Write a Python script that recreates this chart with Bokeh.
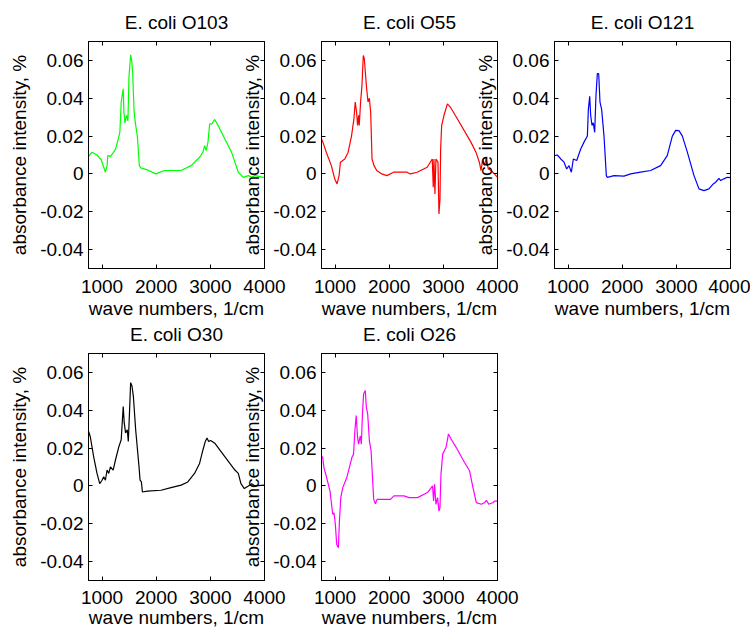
from bokeh.plotting import figure
from bokeh.layouts import row, column
from bokeh.models import Range1d, LinearAxis, FixedTicker
from bokeh.embed import file_html
from bokeh.resources import INLINE

# ---------------- data ----------------
TITLES = ["E. coli O103", "E. coli O55", "E. coli O121", "E. coli O30", "E. coli O26"]
COLORS = ["#00ff00", "#ff0000", "#0000ff", "#000000", "#ff00ff"]

X_TICKS = [1000, 2000, 3000, 4000]
X_TICK_LABELS = ["1000", "2000", "3000", "4000"]
Y_TICKS = [-0.04, -0.02, 0, 0.02, 0.04, 0.06]
Y_TICK_LABELS = ["-0.04", "-0.02", "0", "0.02", "0.04", "0.06"]
X_LABEL = "wave numbers, 1/cm"
Y_LABEL = "absorbance intensity, %"

O103_X = [752, 814, 907, 957, 985, 1062, 1093, 1106, 1155, 1200, 1248, 1292, 1329, 1354, 1391,
          1404, 1422, 1453, 1478, 1497, 1528, 1547, 1565, 1590, 1615, 1652, 1689, 1714, 1839,
          1994, 2149, 2460, 2646, 2801, 2863, 2894, 2925, 2956, 2988, 3031, 3081, 3143, 3391,
          3516, 3609, 3702, 3764, 3826, 4000]
O103_Y = [0.0093, 0.0115, 0.0100, 0.0083, 0.0075, 0.0009, 0.0044, 0.0097, 0.0093, 0.0110, 0.0130,
          0.0176, 0.0220, 0.0380, 0.0450, 0.0326, 0.0270, 0.0310, 0.0280, 0.0510, 0.0630, 0.0600,
          0.0540, 0.0340, 0.0270, 0.0200, 0.0044, 0.0032, 0.0021, 0.0000, 0.0018, 0.0018, 0.0044,
          0.0088, 0.0115, 0.0150, 0.0123, 0.0168, 0.0265, 0.0265, 0.0288, 0.0256, 0.0115, 0.0009,
          -0.0018, -0.0009, -0.0018, -0.0009, -0.0020]

O55_X = [750, 776, 838, 932, 994, 1037, 1075, 1099, 1180, 1242, 1304, 1348, 1373, 1398, 1416,
         1435, 1447, 1472, 1497, 1522, 1540, 1559, 1584, 1609, 1634, 1658, 1683, 1720, 1770,
         1863, 1957, 2081, 2329, 2391, 2516, 2702, 2795, 2814, 2826, 2845, 2863, 2901, 2919,
         2938, 2950, 2969, 3012, 3075, 3137, 3261, 3509, 3602, 3665, 3696, 3727, 3758, 3789,
         3832, 3882, 3944, 4000]
O55_Y = [0.0185, 0.0168, 0.0115, 0.0044, -0.0026, -0.0053, -0.0009, 0.0062, 0.0079, 0.0115,
         0.0200, 0.0290, 0.0380, 0.0326, 0.0256, 0.0310, 0.0256, 0.0380, 0.0467, 0.0626, 0.0610,
         0.0540, 0.0450, 0.0380, 0.0400, 0.0326, 0.0079, 0.0044, 0.0018, 0.0000, -0.0009, 0.0009,
         0.0009, 0.0000, 0.0009, 0.0035, 0.0079, -0.0070, 0.0079, -0.0106, 0.0079, 0.0062,
         -0.0212, -0.0132, 0.0132, 0.0256, 0.0310, 0.0370, 0.0350, 0.0290, 0.0168, 0.0115,
         0.0062, 0.0018, 0.0079, 0.0044, 0.0079, 0.0026, 0.0018, 0.0000, -0.0018]

O121_X = [750, 803, 865, 926, 975, 1018, 1061, 1098, 1160, 1234, 1295, 1357, 1375, 1400, 1418,
          1443, 1467, 1492, 1516, 1541, 1566, 1590, 1621, 1664, 1707, 1726, 1849, 2033, 2156,
          2340, 2525, 2709, 2832, 2926, 2988, 3049, 3111, 3203, 3326, 3418, 3510, 3602, 3682,
          3725, 3787, 3817, 3879, 3940, 4000]
O121_Y = [0.0097, 0.0100, 0.0079, 0.0062, 0.0026, 0.0044, 0.0009, 0.0079, 0.0071, 0.0132, 0.0168,
          0.0200, 0.0340, 0.0410, 0.0310, 0.0256, 0.0270, 0.0220, 0.0415, 0.0530, 0.0530, 0.0380,
          0.0340, 0.0200, -0.0009, -0.0018, -0.0009, -0.0012, 0.0000, 0.0009, 0.0018, 0.0044,
          0.0097, 0.0200, 0.0230, 0.0229, 0.0200, 0.0115, -0.0009, -0.0079, -0.0088, -0.0079,
          -0.0053, -0.0044, -0.0023, -0.0035, -0.0026, -0.0018, -0.0020]

O30_X = [752, 783, 845, 907, 957, 1000, 1031, 1062, 1093, 1124, 1155, 1205, 1248, 1311, 1354,
         1391, 1410, 1435, 1466, 1485, 1509, 1528, 1553, 1578, 1621, 1683, 1702, 1727, 1745,
         1839, 2087, 2273, 2460, 2584, 2708, 2801, 2863, 2907, 2938, 2969, 3006, 3081, 3267,
         3453, 3516, 3565, 3627, 3702, 3764, 3826, 4000]
O30_Y = [0.0288, 0.0260, 0.0155, 0.0066, 0.0012, 0.0030, 0.0048, 0.0030, 0.0084, 0.0066, 0.0101,
         0.0084, 0.0137, 0.0208, 0.0244, 0.0420, 0.0333, 0.0280, 0.0297, 0.0235, 0.0402, 0.0546,
         0.0528, 0.0475, 0.0297, 0.0101, 0.0030, 0.0021, -0.0032, -0.0028, -0.0023, -0.0009,
         0.0004, 0.0021, 0.0066, 0.0119, 0.0190, 0.0235, 0.0253, 0.0235, 0.0240, 0.0226, 0.0155,
         0.0084, 0.0066, 0.0012, -0.0014, 0.0000, 0.0012, 0.0000, 0.0004]

O26_X = [750, 770, 795, 845, 907, 957, 981, 1006, 1031, 1062, 1081, 1106, 1143, 1217, 1311, 1342,
         1366, 1391, 1416, 1435, 1466, 1485, 1509, 1528, 1559, 1578, 1603, 1634, 1665, 1714,
         1745, 1776, 2025, 2087, 2273, 2366, 2522, 2708, 2801, 2820, 2839, 2863, 2894, 2919,
         2938, 2956, 2988, 3050, 3094, 3143, 3236, 3391, 3484, 3547, 3609, 3702, 3764, 3795,
         3839, 3919, 3950, 4000]
O26_Y = [0.0150, 0.0154, 0.0097, 0.0044, -0.0027, -0.0150, -0.0142, -0.0204, -0.0310, -0.0327,
         -0.0186, -0.0062, -0.0009, 0.0044, 0.0150, 0.0168, 0.0290, 0.0372, 0.0257, 0.0221, 0.0265,
         0.0221, 0.0398, 0.0487, 0.0504, 0.0416, 0.0380, 0.0239, 0.0186, -0.0071, -0.0094, -0.0071,
         -0.0071, -0.0053, -0.0053, -0.0062, -0.0062, -0.0035, 0.0000, -0.0080, 0.0009, -0.0097,
         -0.0062, -0.0133, -0.0115, 0.0062, 0.0168, 0.0204, 0.0274, 0.0248, 0.0204, 0.0124,
         0.0080, -0.0009, -0.0088, -0.0097, -0.0088, -0.0076, -0.0097, -0.0088, -0.0080, -0.0080]

SERIES_X = [O103_X, O55_X, O121_X, O30_X, O26_X]
SERIES_Y = [O103_Y, O55_Y, O121_Y, O30_Y, O26_Y]

X_RANGE = (750, 4000)
Y_RANGE = (-0.05, 0.07)

FONT = "Liberation Sans"
FS = "19px"


def style_axis(ax, ticks, show_labels):
    ax.ticker = FixedTicker(ticks=ticks)
    ax.major_tick_in = 4
    ax.major_tick_out = 0
    ax.minor_tick_line_color = None
    ax.major_tick_line_color = "black"
    ax.axis_line_color = "black"
    ax.major_label_text_font = FONT
    ax.major_label_text_font_size = FS if show_labels else "1px"
    ax.major_label_text_color = "black" if show_labels else None
    ax.axis_label_text_font = FONT
    ax.axis_label_text_font_size = FS
    ax.axis_label_text_font_style = "normal"
    ax.axis_label_text_color = "black"


def make_fig(i, bottom, right, tick_standoff, label_standoff):
    p = figure(frame_width=176, frame_height=227,
               min_border_left=88, min_border_right=right,
               min_border_top=44, min_border_bottom=bottom,
               x_range=Range1d(*X_RANGE), y_range=Range1d(*Y_RANGE),
               output_backend="svg", toolbar_location=None,
               title=TITLES[i])
    p.border_fill_color = None
    p.background_fill_color = "white"
    p.outline_line_color = "black"
    p.outline_line_alpha = 1
    p.grid.visible = False
    p.title.text_font = FONT
    p.title.text_font_size = FS
    p.title.text_font_style = "normal"
    p.title.text_color = "black"
    p.title.align = "center"
    p.title.standoff = 18

    xa = p.xaxis[0]
    ya = p.yaxis[0]
    style_axis(xa, X_TICKS, True)
    style_axis(ya, Y_TICKS, True)
    xa.major_label_overrides = dict(zip(X_TICKS, X_TICK_LABELS))
    ya.major_label_overrides = dict(zip(Y_TICKS, Y_TICK_LABELS))
    xa.axis_label = X_LABEL
    ya.axis_label = Y_LABEL
    xa.major_label_standoff = tick_standoff
    xa.axis_label_standoff = label_standoff
    ya.major_label_standoff = 5
    ya.axis_label_standoff = 7

    top = LinearAxis()
    rgt = LinearAxis()
    p.add_layout(top, "above")
    p.add_layout(rgt, "right")
    style_axis(top, X_TICKS, False)
    style_axis(rgt, Y_TICKS, False)
    top.major_label_standoff = 0
    rgt.major_label_standoff = 0

    p.line(SERIES_X[i], SERIES_Y[i], line_color=COLORS[i], line_width=1.2)
    return p


f1 = make_fig(0, 56, 22, 11, 2)
f2 = make_fig(1, 56, 22, 11, 2)
f3 = make_fig(2, 56, 20, 11, 2)
f4 = make_fig(3, 53, 22, 10, 0)
f5 = make_fig(4, 53, 22, 10, 0)
f1.margin = (-3, 0, 0, 0)
f2.margin = (-3, 0, 0, -53)
f3.margin = (-3, 0, 0, -53)
f4.margin = (-15, 0, 0, 0)
f5.margin = (-15, 0, 0, -53)

layout = column(row(f1, f2, f3), row(f4, f5))

open("out.html", "w").write(file_html(layout, INLINE))
